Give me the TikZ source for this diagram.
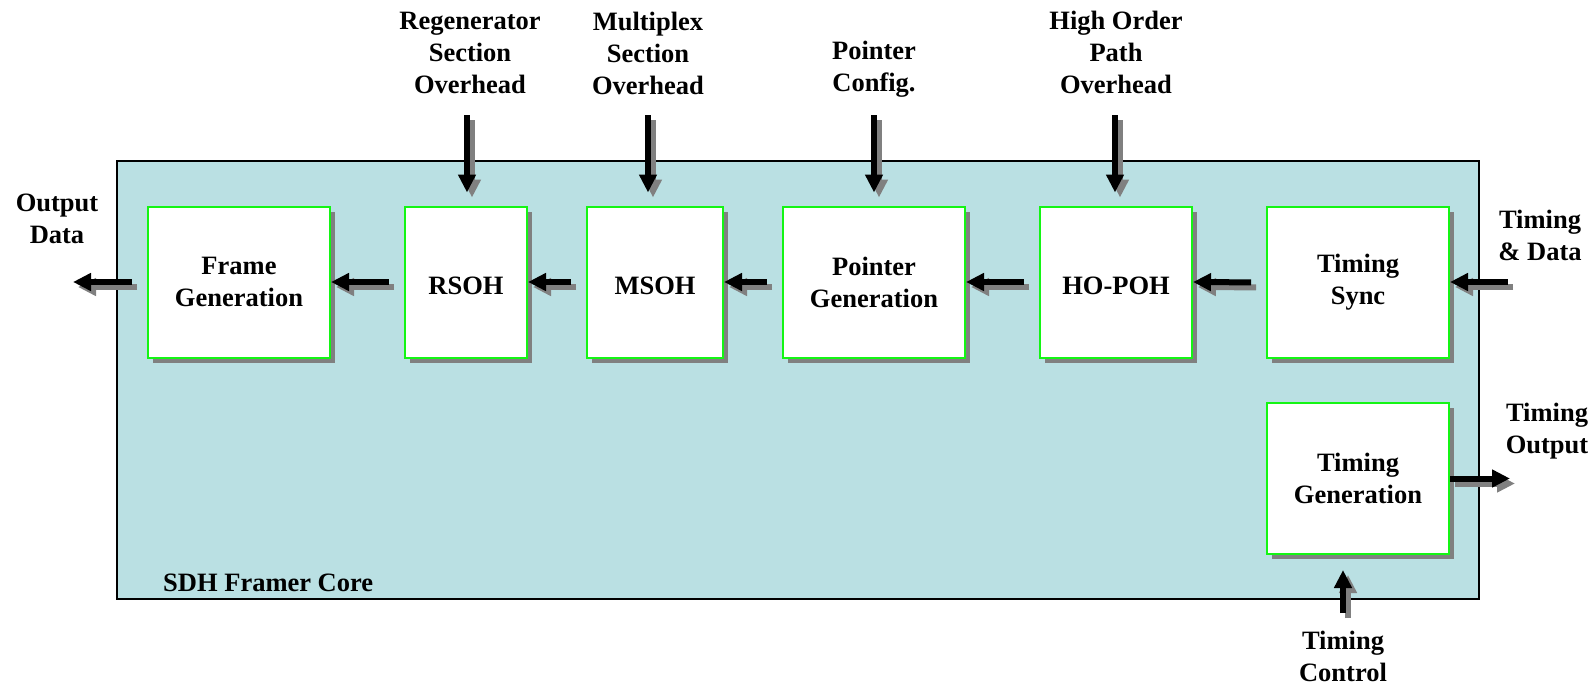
\documentclass[tikz,border=0pt]{standalone}
\usepackage{fontspec}
\setmainfont{Liberation Serif}
\usetikzlibrary{arrows.meta,shadows}
\definecolor{corefill}{RGB}{186,224,227}
\definecolor{boxgreen}{RGB}{20,245,20}
\definecolor{shade}{RGB}{128,128,128}
% each signal arrow is drawn twice: a grey offset copy, then the black arrow
\newcommand\dualarrow[1]{\draw[flowshade] #1; \draw[flow] #1;}
\begin{document}
\begin{tikzpicture}[x=1pt,y=-1pt,
  every node/.style={font=\fontsize{26.5}{32}\selectfont\bfseries},
  core/.style={draw=black, line width=1.6pt, fill=corefill, inner sep=0pt},
  block/.style={draw=boxgreen, line width=2pt, fill=white, align=center,
    inner sep=0pt, minimum height=151pt,
    execute at begin node={\rule{0pt}{25pt}},
    drop shadow={shadow xshift=5pt, shadow yshift=-5pt, fill=shade, opacity=1}},
  caption/.style={align=center, inner sep=0pt},
  flow/.style={line width=6pt, draw=black, -{Triangle[length=18pt,width=17pt]}},
  flowshade/.style={flow, draw=shade, fill=shade,
    transform canvas={xshift=5pt,yshift=-5pt}}]
\useasboundingbox (0,0) rectangle (1595,685);

% framer core
\node[core, minimum width=1362pt, minimum height=438pt] (core) at (798,380) {};
\node[caption, anchor=west] (corelabel) at (163,583) {SDH Framer Core};

% processing blocks
\node[block, minimum width=182pt] (frame)   at (239,282)    {Frame\\Generation};
\node[block, minimum width=122pt] (rsoh)    at (466,282)    {RSOH};
\node[block, minimum width=136pt] (msoh)    at (655,282)    {MSOH};
\node[block, minimum width=182pt] (pointer) at (874,282)    {Pointer\\Generation};
\node[block, minimum width=152pt] (hopoh)   at (1116,282)   {HO-POH};
\node[block, minimum width=182pt] (tsync)   at (1358,282.5) {Timing\\Sync};
\node[block, minimum width=182pt] (tgen)    at (1358,478.5) {Timing\\Generation};

% external signal captions
\node[caption] (outdata)  at (57,219)   {Output\\Data};
\node[caption] (rsohcap)  at (470,53)   {Regenerator\\Section\\Overhead};
\node[caption] (msohcap)  at (648,53)   {Multiplex\\Section\\Overhead};
\node[caption] (ptrcap)   at (874,69.5) {Pointer\\Config.};
\node[caption] (hopohcap) at (1116,52)  {High Order\\Path\\Overhead};
\node[caption] (tdcap)    at (1540,235) {Timing\\\& Data};
\node[caption] (toutcap)  at (1547,431) {Timing\\Output};
\node[caption] (tctlcap)  at (1343,656) {Timing\\Control};

% free arrow ends
\coordinate (rsohsrc)  at (467,115);
\coordinate (msohsrc)  at (648,115);
\coordinate (ptrsrc)   at (874,115);
\coordinate (hopohsrc) at (1115,115);
\coordinate (tdsrc)    at (1508,282);
\coordinate (tctlsrc)  at (1343,613);
\coordinate (outend)   at (73,282);
\coordinate (toutend)  at (1510,478.5);

% data path
\dualarrow{(tdsrc) -- (tdsrc -| tsync.east)}
\dualarrow{[shorten <=15pt] (tsync.west) -- (hopoh.east)}
\dualarrow{[shorten <=15pt] (hopoh.west) -- (pointer.east)}
\dualarrow{[shorten <=15pt] (pointer.west) -- (msoh.east)}
\dualarrow{[shorten <=15pt] (msoh.west) -- (rsoh.east)}
\dualarrow{[shorten <=15pt] (rsoh.west) -- (frame.east)}
\dualarrow{[shorten <=15pt] (frame.west) -- (outend)}

% overhead and configuration inputs
\dualarrow{[shorten >=13pt] (rsohsrc) -- (rsohsrc |- rsoh.north)}
\dualarrow{[shorten >=13pt] (msohsrc) -- (msohsrc |- msoh.north)}
\dualarrow{[shorten >=13pt] (ptrsrc) -- (ptrsrc |- pointer.north)}
\dualarrow{[shorten >=13pt] (hopohsrc) -- (hopohsrc |- hopoh.north)}

% timing
\dualarrow{[shorten >=15pt] (tctlsrc) -- (tctlsrc |- tgen.south)}
\dualarrow{(tgen.east) -- (toutend)}
\end{tikzpicture}
\end{document}
